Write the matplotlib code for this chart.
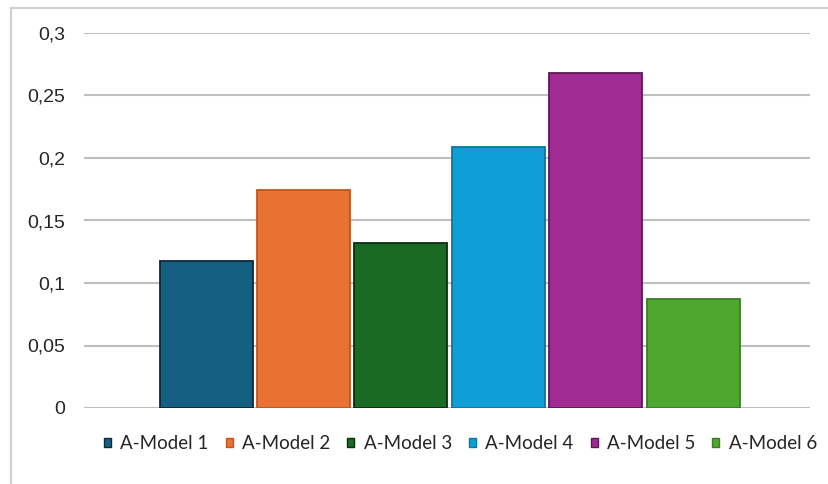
import matplotlib.pyplot as plt
from matplotlib.patches import Rectangle, Patch
from matplotlib.ticker import FuncFormatter

# data
models = ["A-Model 1", "A-Model 2", "A-Model 3", "A-Model 4", "A-Model 5", "A-Model 6"]
values = [0.118, 0.174, 0.132, 0.209, 0.268, 0.087]
colors = ["#156082", "#E97132", "#196B24", "#0F9ED5", "#A02B93", "#4EA72E"]
edges = ["#0A2A3C", "#C0561E", "#0B2E10", "#0B76A0", "#5E1856", "#3B7D23"]
yticks = [0, 0.05, 0.1, 0.15, 0.2, 0.25, 0.3]

fig = plt.figure(figsize=(8.29, 4.84), dpi=100)
ax = fig.add_axes([84 / 829, 76 / 484, 726 / 829, 375 / 484])

x = range(len(models))
ax.bar(x, values, width=0.955, color=colors, edgecolor=edges, linewidth=1.3, zorder=3)

ax.set_xlim(-1.253, 6.201)
ax.set_ylim(0, 0.3)
ax.set_yticks(yticks)
ax.yaxis.set_major_formatter(FuncFormatter(lambda v, p: f"{v:g}".replace(".", ",")))
ax.set_xticks([])
ax.grid(axis="y", color="#BFBFBF", linewidth=1.5, zorder=0)
ax.tick_params(axis="y", length=0, pad=13.5, labelsize=14, labelcolor="#262626",
               labelfontfamily="Liberation Sans")
for s in ax.spines.values():
    s.set_visible(False)

handles = [Patch(facecolor=c, edgecolor=e, linewidth=1) for c, e in zip(colors, edges)]
fig.legend(handles, models, loc="center", bbox_to_anchor=(0.5555, 0.083), ncol=6,
           frameon=False, handlelength=0.38, handleheight=0.38, handletextpad=0.5,
           columnspacing=0.9, prop={"family": "Lato", "size": 13.5}, labelcolor="#262626")

# outer chart border (cut off at the right and bottom)
fig.patches.append(Rectangle((11 / 829, -0.1), 1.2, (484 - 8) / 484 + 0.1,
                             transform=fig.transFigure, fill=False,
                             edgecolor="#D0D0D0", linewidth=1.5))

fig.savefig("out.png", dpi=100)
